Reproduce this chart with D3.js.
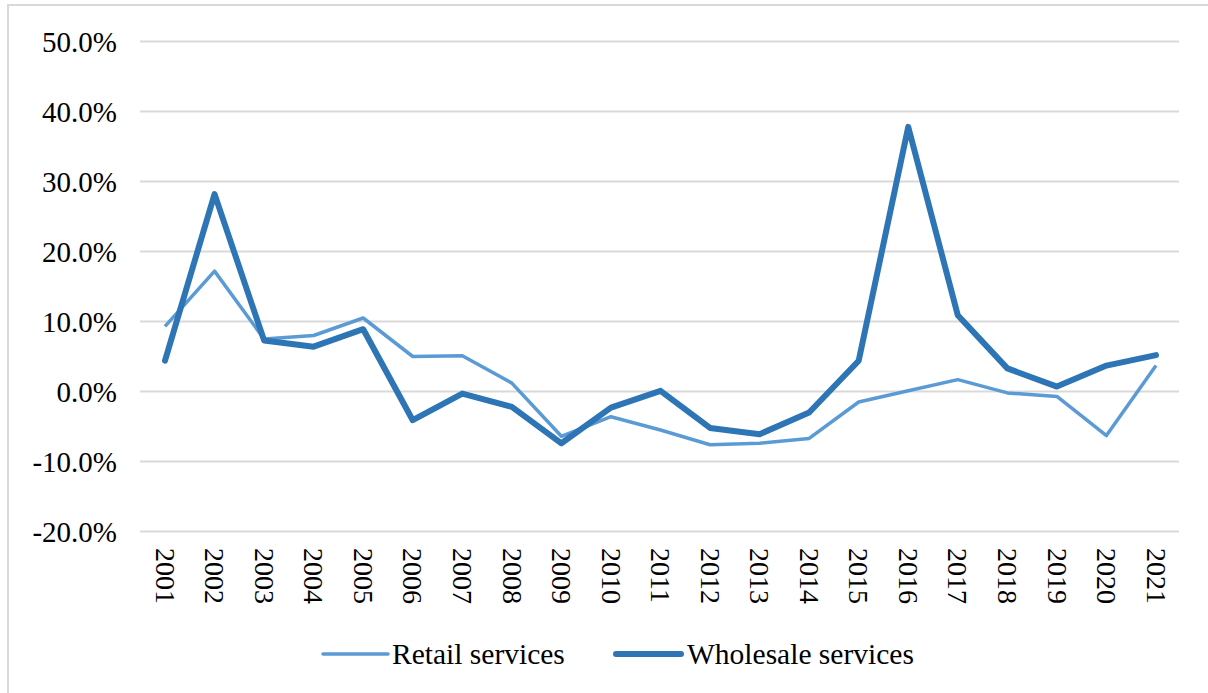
<!DOCTYPE html>
<html><head><meta charset="utf-8">
<script src="https://cdn.jsdelivr.net/npm/d3@7"></script>
<style>body{margin:0;background:#fff;}svg{display:block;}</style>
</head><body>
<script>
const years = ["2001","2002","2003","2004","2005","2006","2007","2008","2009","2010","2011","2012","2013","2014","2015","2016","2017","2018","2019","2020","2021"];
const retail = [9.3,17.2,7.5,8.0,10.5,5.0,5.1,1.2,-6.4,-3.6,-5.5,-7.6,-7.4,-6.7,-1.5,0.1,1.7,-0.2,-0.7,-6.3,3.7];
const wholesale = [4.4,28.2,7.3,6.4,8.9,-4.1,-0.3,-2.2,-7.4,-2.3,0.1,-5.2,-6.1,-3.0,4.4,37.8,10.9,3.3,0.7,3.7,5.2];
const yTicks = [-20,-10,0,10,20,30,40,50];
const seriesNames = ["Retail services","Wholesale services"];

const W=1208,H=693;
const svg=d3.select("body").append("svg").attr("width",W).attr("height",H);
svg.append("rect").attr("x",8).attr("y",5).attr("width",W).attr("height",H).attr("fill","#fff").attr("stroke","#d9d9d9").attr("stroke-width",2);

const x=d3.scalePoint().domain(years).range([165,1156]);
const y=d3.scaleLinear().domain([-20,50]).range([531.5,41.5]);
const font="'Liberation Serif','Times New Roman',serif";

const grid=svg.append("g");
grid.selectAll("line").data(yTicks).join("line")
  .attr("x1",140).attr("x2",1179).attr("y1",d=>y(d)).attr("y2",d=>y(d))
  .attr("stroke","#d9d9d9").attr("stroke-width",2);

const yAxis=svg.append("g").attr("transform","translate(117,0)")
  .call(d3.axisLeft(y).tickValues(yTicks).tickSize(0).tickPadding(0).tickFormat(d=>d.toFixed(1)+"%"));
yAxis.select(".domain").remove();
yAxis.selectAll("text").attr("font-family",font).attr("font-size",29).attr("fill","#000").attr("dy","0.34em");

const xAxis=svg.append("g").attr("transform","translate(0,548)")
  .call(d3.axisBottom(x).tickSize(0).tickPadding(0));
xAxis.select(".domain").remove();
xAxis.selectAll("text").attr("font-family",font).attr("font-size",28).attr("fill","#000")
  .attr("transform","rotate(90)").attr("text-anchor","start").attr("x",0).attr("y",0).attr("dy","0.35em");

const line=d3.line().x((d,i)=>x(years[i])).y(d=>y(d));
svg.append("path").datum(retail).attr("d",line).attr("fill","none").attr("stroke","#5B9BD5").attr("stroke-width",3.5).attr("stroke-linejoin","round");
svg.append("path").datum(wholesale).attr("d",line).attr("fill","none").attr("stroke","#2E75B6").attr("stroke-width",6).attr("stroke-linejoin","round").attr("stroke-linecap","round");

const leg=svg.append("g");
const legItems=[{name:seriesNames[0],c:"#5B9BD5",w:3.5,x1:323,x2:388,tx:392},{name:seriesNames[1],c:"#2E75B6",w:6,x1:616,x2:681,tx:687}];
legItems.forEach(d=>{
  leg.append("line").attr("x1",d.x1).attr("x2",d.x2).attr("y1",654).attr("y2",654).attr("stroke",d.c).attr("stroke-width",d.w).attr("stroke-linecap","round");
  leg.append("text").attr("x",d.tx).attr("y",654).attr("dy","0.35em").attr("font-family",font).attr("font-size",29.5).attr("fill","#000").text(d.name);
});
</script>
</body></html>
